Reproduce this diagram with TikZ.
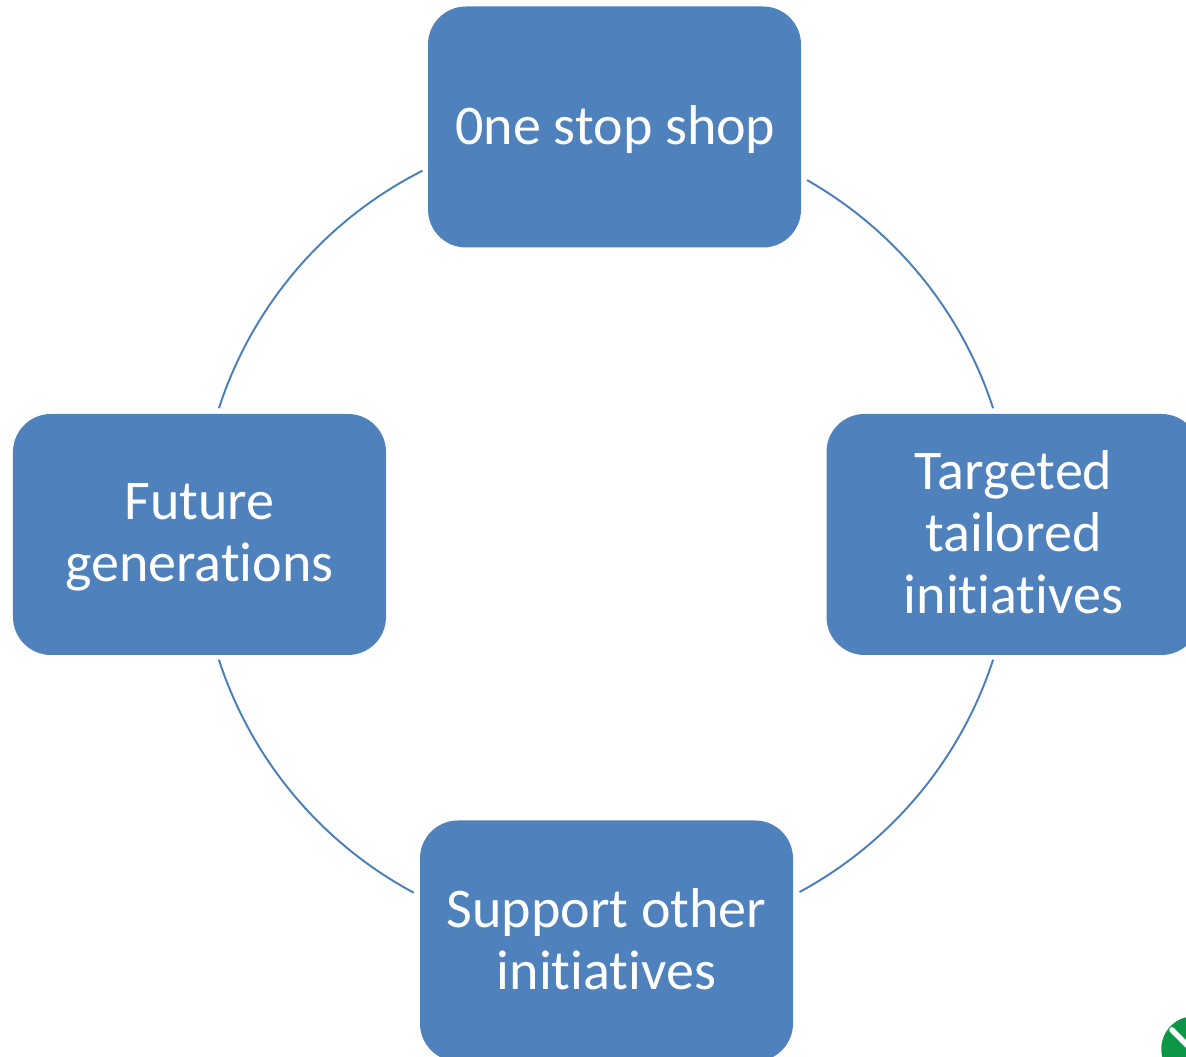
\documentclass[tikz,border=0pt]{standalone}
\usepackage{fontspec}
\setmainfont{Carlito}[Ligatures=NoCommon]
\definecolor{boxblue}{HTML}{4F81BD}
\definecolor{arcblue}{HTML}{4A7EBB}
\definecolor{badgegreen}{HTML}{0E9648}
\tikzset{
  cyclebox/.style={fill=boxblue,rounded corners=0.38cm,minimum width=3.73cm,minimum height=2.41cm,inner sep=0pt},
  cycletext/.style={text=white,inner sep=0pt,align=center,font=\fontsize{15.95}{17.6}\selectfont},
  cyclearc/.style={arcblue,line width=0.55pt}
}

\begin{document}
\begin{tikzpicture}
\clip (0,0) rectangle (11.86,10.57);
\coordinate (hub) at (6.06,5.23);
\node [cyclebox] (shop) at (6.145,9.30) {};
\node [cyclebox] (targeted) at (10.13,5.225) {};
\node [cyclebox] (support) at (6.065,1.16) {};
\node [cyclebox] (future) at (1.995,5.225) {};
\node [cycletext] (shoptext) at (6.155,9.27) {0ne stop shop};
\node [cycletext] (targetedtext) at (10.135,5.245) {Targeted\\tailored\\initiatives};
\node [cycletext] (supporttext) at (6.065,1.18) {Support other\\initiatives};
\node [cycletext] (futuretext) at (1.995,5.195) {Future\\generations};
\coordinate (shopout) at ([shift={(60.4:4.07)}]hub);
\coordinate (targetedout) at ([shift={(-18:4.07)}]hub);
\coordinate (supportout) at ([shift={(241.8:4.07)}]hub);
\coordinate (futureout) at ([shift={(162:4.07)}]hub);
\draw [cyclearc] (shopout) arc (60.4:18:4.07);
\draw [cyclearc] (targetedout) arc (-18:-61.6:4.07);
\draw [cyclearc] (supportout) arc (241.8:198:4.07);
\draw [cyclearc] (futureout) arc (162:116.8:4.07);
\draw [fill=badgegreen,badgegreen] (11.94,0.08) circle (0.32);
\draw [line width=1.6pt,white,line cap=round] (11.72,0.27) to (11.90,0.09);
\end{tikzpicture}
\end{document}
